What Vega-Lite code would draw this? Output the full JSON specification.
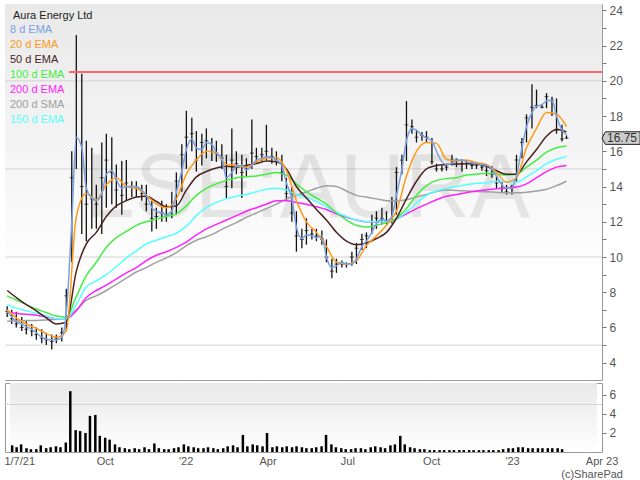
{
  "$schema": "https://vega.github.io/schema/vega-lite/v6.json",
  "padding": {"left": 3, "top": 3, "right": 0, "bottom": 0},
  "background": "#ffffff",
  "spacing": 1,
  "config": {
    "font": "Liberation Sans",
    "view": {"stroke": "#9a9a9a"},
    "axis": {"labelFont": "Liberation Sans", "labelColor": "#555555", "gridColor": "#d4d4d4", "domain": false, "tickColor": "#777777"}
  },
  "title": {"text": "(c)SharePad", "orient": "bottom", "anchor": "end", "frame": "group", "dx": 21, "fontSize": 11, "fontWeight": "normal", "color": "#555555", "offset": 2},
  "datasets": {
    "wm": [{"d": "2022-05-25", "p": 12.25, "t": "LSE:AURA"}],
    "grid": [{"g": 5}, {"g": 10}, {"g": 15}, {"g": 20}],
    "res": [{"d": "2021-09-05", "d2": "2023-04-14", "p": 20.5}],
    "last": [{"d": "2023-04-14", "p": 16.75}],
    "bars": [
      {"d": "2021-06-29", "h": 7.2, "l": 6.6, "c": 6.9, "v": 0.7, "e8": 6.9},
      {"d": "2021-07-04", "h": 7.0, "l": 6.2, "c": 6.5, "v": 0.5, "e8": 6.6},
      {"d": "2021-07-09", "h": 6.9, "l": 6.0, "c": 6.2, "v": 0.8, "e8": 6.35},
      {"d": "2021-07-15", "h": 6.6, "l": 5.8, "c": 6.0, "v": 0.4, "e8": 6.2},
      {"d": "2021-07-20", "h": 6.4, "l": 5.6, "c": 5.9, "v": 0.3, "e8": 6.05},
      {"d": "2021-07-26", "h": 6.2, "l": 5.5, "c": 5.8, "v": 0.3, "e8": 5.9},
      {"d": "2021-07-31", "h": 6.0, "l": 5.3, "c": 5.6, "v": 0.7, "e8": 5.7},
      {"d": "2021-08-06", "h": 5.9, "l": 5.1, "c": 5.4, "v": 0.4, "e8": 5.45},
      {"d": "2021-08-11", "h": 5.7, "l": 5.0, "c": 5.3, "v": 0.5, "e8": 5.35},
      {"d": "2021-08-17", "h": 5.6, "l": 4.75, "c": 5.2, "v": 0.6, "e8": 5.3},
      {"d": "2021-08-22", "h": 5.6, "l": 5.1, "c": 5.4, "v": 0.5, "e8": 5.3},
      {"d": "2021-08-28", "h": 6.0, "l": 5.2, "c": 5.7, "v": 1.0, "e8": 5.45},
      {"d": "2021-09-02", "h": 8.2, "l": 5.8, "c": 7.8, "v": 6.4, "e8": 6.8},
      {"d": "2021-09-08", "h": 16.0, "l": 9.7, "c": 14.5, "v": 2.3, "e8": 12.0},
      {"d": "2021-09-13", "h": 22.6, "l": 15.0, "c": 20.5, "v": 2.2, "e8": 16.8},
      {"d": "2021-09-19", "h": 20.4, "l": 11.3, "c": 14.0, "v": 2.0, "e8": 16.2},
      {"d": "2021-09-24", "h": 16.6, "l": 10.9, "c": 13.0, "v": 3.8, "e8": 13.9},
      {"d": "2021-09-30", "h": 16.2, "l": 11.6, "c": 13.3, "v": 3.9, "e8": 13.35},
      {"d": "2021-10-05", "h": 14.1, "l": 11.6, "c": 13.0, "v": 1.7, "e8": 13.2},
      {"d": "2021-10-11", "h": 16.5, "l": 11.3, "c": 14.5, "v": 1.5, "e8": 13.6},
      {"d": "2021-10-16", "h": 17.0, "l": 12.8, "c": 15.5, "v": 1.3, "e8": 14.7},
      {"d": "2021-10-22", "h": 16.8, "l": 13.0, "c": 14.8, "v": 0.8, "e8": 14.9},
      {"d": "2021-10-27", "h": 15.25, "l": 12.8, "c": 13.8, "v": 0.5, "e8": 14.4},
      {"d": "2021-11-02", "h": 15.45, "l": 12.4, "c": 13.5, "v": 0.4, "e8": 13.9},
      {"d": "2021-11-07", "h": 15.5, "l": 13.2, "c": 14.2, "v": 0.3, "e8": 14.0},
      {"d": "2021-11-13", "h": 14.3, "l": 13.4, "c": 14.0, "v": 0.4, "e8": 14.0},
      {"d": "2021-11-18", "h": 14.3, "l": 13.4, "c": 13.9, "v": 0.3, "e8": 14.0},
      {"d": "2021-11-24", "h": 14.1, "l": 13.2, "c": 13.6, "v": 0.5, "e8": 13.8},
      {"d": "2021-11-29", "h": 14.1, "l": 12.6, "c": 13.0, "v": 0.3, "e8": 13.5},
      {"d": "2021-12-05", "h": 13.2, "l": 11.45, "c": 12.2, "v": 0.9, "e8": 12.8},
      {"d": "2021-12-10", "h": 12.8, "l": 11.6, "c": 12.3, "v": 0.4, "e8": 12.6},
      {"d": "2021-12-16", "h": 13.2, "l": 12.0, "c": 12.5, "v": 0.3, "e8": 12.5},
      {"d": "2021-12-21", "h": 13.0, "l": 12.0, "c": 12.4, "v": 0.3, "e8": 12.4},
      {"d": "2021-12-27", "h": 13.7, "l": 12.2, "c": 12.9, "v": 0.4, "e8": 12.6},
      {"d": "2022-01-01", "h": 14.8, "l": 12.4, "c": 14.3, "v": 0.5, "e8": 13.7},
      {"d": "2022-01-07", "h": 16.4, "l": 13.7, "c": 15.8, "v": 0.8, "e8": 14.9},
      {"d": "2022-01-12", "h": 18.3, "l": 15.0, "c": 16.8, "v": 0.6, "e8": 16.1},
      {"d": "2022-01-18", "h": 17.9, "l": 16.0, "c": 17.0, "v": 0.5, "e8": 16.7},
      {"d": "2022-01-23", "h": 17.15, "l": 14.85, "c": 15.5, "v": 0.4, "e8": 16.2},
      {"d": "2022-01-29", "h": 17.0, "l": 15.2, "c": 16.5, "v": 0.4, "e8": 16.1},
      {"d": "2022-02-03", "h": 17.3, "l": 15.6, "c": 16.6, "v": 0.5, "e8": 16.5},
      {"d": "2022-02-09", "h": 16.75, "l": 15.45, "c": 16.0, "v": 0.4, "e8": 16.4},
      {"d": "2022-02-14", "h": 16.6, "l": 15.4, "c": 15.9, "v": 0.3, "e8": 15.9},
      {"d": "2022-02-20", "h": 16.4, "l": 15.0, "c": 15.6, "v": 0.4, "e8": 15.6},
      {"d": "2022-02-25", "h": 15.8, "l": 13.35, "c": 14.0, "v": 0.6, "e8": 14.5},
      {"d": "2022-03-03", "h": 17.3, "l": 13.9, "c": 15.5, "v": 0.7, "e8": 14.8},
      {"d": "2022-03-08", "h": 16.0, "l": 14.7, "c": 15.3, "v": 0.5, "e8": 15.15},
      {"d": "2022-03-14", "h": 15.8, "l": 13.35, "c": 14.8, "v": 1.8, "e8": 15.2},
      {"d": "2022-03-19", "h": 15.6, "l": 14.6, "c": 15.0, "v": 0.6, "e8": 14.95},
      {"d": "2022-03-25", "h": 17.8, "l": 15.0, "c": 15.9, "v": 0.8, "e8": 15.2},
      {"d": "2022-03-30", "h": 16.2, "l": 15.3, "c": 15.7, "v": 0.7, "e8": 15.5},
      {"d": "2022-04-05", "h": 16.2, "l": 15.4, "c": 15.8, "v": 0.6, "e8": 15.6},
      {"d": "2022-04-10", "h": 17.5, "l": 15.5, "c": 16.0, "v": 2.0, "e8": 15.7},
      {"d": "2022-04-16", "h": 16.2, "l": 15.3, "c": 15.7, "v": 0.5, "e8": 15.65},
      {"d": "2022-04-21", "h": 16.0, "l": 15.2, "c": 15.5, "v": 0.6, "e8": 15.5},
      {"d": "2022-04-27", "h": 15.8, "l": 14.3, "c": 14.8, "v": 0.5, "e8": 15.2},
      {"d": "2022-05-02", "h": 14.5, "l": 13.2, "c": 13.6, "v": 0.6, "e8": 14.2},
      {"d": "2022-05-08", "h": 14.0, "l": 12.0, "c": 12.5, "v": 0.5, "e8": 13.35},
      {"d": "2022-05-13", "h": 12.6, "l": 10.3, "c": 11.2, "v": 0.6, "e8": 11.7},
      {"d": "2022-05-19", "h": 11.6, "l": 10.5, "c": 11.0, "v": 0.5, "e8": 11.05},
      {"d": "2022-05-24", "h": 12.2, "l": 10.7, "c": 11.5, "v": 0.4, "e8": 11.25},
      {"d": "2022-05-30", "h": 11.6, "l": 11.0, "c": 11.3, "v": 0.4, "e8": 11.2},
      {"d": "2022-06-04", "h": 11.6, "l": 10.9, "c": 11.2, "v": 0.5, "e8": 11.1},
      {"d": "2022-06-10", "h": 11.5, "l": 10.7, "c": 11.0, "v": 0.6, "e8": 11.2},
      {"d": "2022-06-15", "h": 11.0, "l": 9.7, "c": 10.0, "v": 1.8, "e8": 10.0},
      {"d": "2022-06-21", "h": 9.9, "l": 8.8, "c": 9.2, "v": 0.8, "e8": 9.4},
      {"d": "2022-06-26", "h": 9.9, "l": 9.1, "c": 9.6, "v": 0.5, "e8": 9.5},
      {"d": "2022-07-02", "h": 9.8, "l": 9.4, "c": 9.6, "v": 0.4, "e8": 9.7},
      {"d": "2022-07-07", "h": 9.7, "l": 9.4, "c": 9.6, "v": 0.3, "e8": 9.6},
      {"d": "2022-07-13", "h": 10.3, "l": 9.5, "c": 10.0, "v": 0.3, "e8": 9.6},
      {"d": "2022-07-18", "h": 10.8, "l": 9.6, "c": 10.5, "v": 0.4, "e8": 9.9},
      {"d": "2022-07-24", "h": 11.3, "l": 10.4, "c": 11.0, "v": 0.4, "e8": 10.6},
      {"d": "2022-07-29", "h": 11.4, "l": 10.5, "c": 11.2, "v": 0.3, "e8": 10.9},
      {"d": "2022-08-04", "h": 12.4, "l": 11.3, "c": 12.0, "v": 0.5, "e8": 11.4},
      {"d": "2022-08-09", "h": 12.6, "l": 11.6, "c": 12.2, "v": 0.6, "e8": 11.9},
      {"d": "2022-08-15", "h": 12.8, "l": 11.85, "c": 12.2, "v": 0.5, "e8": 12.15},
      {"d": "2022-08-20", "h": 12.6, "l": 11.85, "c": 12.0, "v": 0.4, "e8": 12.05},
      {"d": "2022-08-26", "h": 13.4, "l": 11.9, "c": 13.2, "v": 0.7, "e8": 12.3},
      {"d": "2022-08-31", "h": 15.1, "l": 12.4, "c": 14.8, "v": 0.8, "e8": 13.5},
      {"d": "2022-09-06", "h": 15.8, "l": 14.7, "c": 15.5, "v": 1.7, "e8": 15.0},
      {"d": "2022-09-11", "h": 18.85, "l": 15.45, "c": 17.5, "v": 0.8, "e8": 16.6},
      {"d": "2022-09-17", "h": 17.8, "l": 17.0, "c": 17.4, "v": 0.5, "e8": 17.3},
      {"d": "2022-09-22", "h": 17.15, "l": 16.5, "c": 16.8, "v": 0.4, "e8": 17.2},
      {"d": "2022-09-28", "h": 17.1, "l": 16.6, "c": 16.9, "v": 0.3, "e8": 16.9},
      {"d": "2022-10-03", "h": 17.15, "l": 16.5, "c": 16.8, "v": 0.3, "e8": 16.75},
      {"d": "2022-10-09", "h": 16.75, "l": 15.25, "c": 15.4, "v": 0.2, "e8": 16.6},
      {"d": "2022-10-14", "h": 15.3, "l": 14.85, "c": 15.0, "v": 0.2, "e8": 16.0},
      {"d": "2022-10-20", "h": 15.2, "l": 14.85, "c": 15.0, "v": 0.2, "e8": 15.4},
      {"d": "2022-10-25", "h": 15.3, "l": 14.9, "c": 15.1, "v": 0.2, "e8": 15.25},
      {"d": "2022-10-31", "h": 15.8, "l": 15.2, "c": 15.5, "v": 0.2, "e8": 15.3},
      {"d": "2022-11-05", "h": 15.6, "l": 15.1, "c": 15.5, "v": 0.2, "e8": 15.5},
      {"d": "2022-11-11", "h": 15.55, "l": 14.85, "c": 15.3, "v": 0.2, "e8": 15.5},
      {"d": "2022-11-16", "h": 15.5, "l": 15.0, "c": 15.3, "v": 0.2, "e8": 15.4},
      {"d": "2022-11-22", "h": 15.45, "l": 15.0, "c": 15.2, "v": 0.2, "e8": 15.35},
      {"d": "2022-11-27", "h": 15.4, "l": 15.0, "c": 15.2, "v": 0.2, "e8": 15.3},
      {"d": "2022-12-03", "h": 15.3, "l": 14.9, "c": 15.1, "v": 0.2, "e8": 15.25},
      {"d": "2022-12-08", "h": 15.2, "l": 14.6, "c": 14.9, "v": 0.2, "e8": 15.2},
      {"d": "2022-12-14", "h": 15.15, "l": 14.5, "c": 14.7, "v": 0.2, "e8": 15.0},
      {"d": "2022-12-19", "h": 14.6, "l": 13.9, "c": 14.2, "v": 0.2, "e8": 14.6},
      {"d": "2022-12-25", "h": 14.3, "l": 13.65, "c": 13.9, "v": 0.2, "e8": 14.1},
      {"d": "2022-12-30", "h": 14.1, "l": 13.55, "c": 13.7, "v": 0.3, "e8": 13.9},
      {"d": "2023-01-05", "h": 14.1, "l": 13.55, "c": 14.0, "v": 0.4, "e8": 13.95},
      {"d": "2023-01-10", "h": 15.8, "l": 14.3, "c": 15.5, "v": 0.4, "e8": 14.6},
      {"d": "2023-01-16", "h": 16.75, "l": 15.6, "c": 16.5, "v": 0.5, "e8": 16.2},
      {"d": "2023-01-21", "h": 18.1, "l": 16.5, "c": 17.9, "v": 0.5, "e8": 17.4},
      {"d": "2023-01-27", "h": 19.8, "l": 17.3, "c": 18.5, "v": 0.4, "e8": 18.2},
      {"d": "2023-02-01", "h": 19.5, "l": 18.45, "c": 18.6, "v": 0.4, "e8": 18.55},
      {"d": "2023-02-07", "h": 18.65, "l": 18.45, "c": 18.5, "v": 0.4, "e8": 18.65},
      {"d": "2023-02-12", "h": 19.3, "l": 18.45, "c": 19.1, "v": 0.4, "e8": 18.85},
      {"d": "2023-02-18", "h": 19.1, "l": 18.0, "c": 18.9, "v": 0.4, "e8": 18.9},
      {"d": "2023-02-23", "h": 19.0, "l": 17.0, "c": 17.2, "v": 0.4, "e8": 18.0},
      {"d": "2023-03-01", "h": 17.5, "l": 16.55, "c": 16.7, "v": 0.4, "e8": 17.2},
      {"d": "2023-03-06", "h": 16.9, "l": 16.7, "c": 16.75, "v": 0.3, "e8": 16.95}
    ],
    "lines": [
      {"d": "2021-06-29", "e20": 7.0, "e50": 8.1, "e100": 7.8, "e150": 7.3, "e200": 6.9, "s200": 6.35},
      {"d": "2021-07-09", "e20": 6.55, "e50": 7.7, "e100": 7.55, "e150": 7.1, "e200": 6.8, "s200": 6.37},
      {"d": "2021-07-20", "e20": 6.2, "e50": 7.3, "e100": 7.3, "e150": 6.95, "e200": 6.75, "s200": 6.39},
      {"d": "2021-07-31", "e20": 5.95, "e50": 6.95, "e100": 7.05, "e150": 6.8, "e200": 6.7, "s200": 6.4},
      {"d": "2021-08-11", "e20": 5.65, "e50": 6.55, "e100": 6.85, "e150": 6.65, "e200": 6.6, "s200": 6.43},
      {"d": "2021-08-22", "e20": 5.45, "e50": 6.2, "e100": 6.65, "e150": 6.5, "e200": 6.5, "s200": 6.47},
      {"d": "2021-09-02", "e20": 5.8, "e50": 6.3, "e100": 6.6, "e150": 6.5, "e200": 6.5, "s200": 6.55},
      {"d": "2021-09-13", "e20": 12.3, "e50": 9.2, "e100": 7.75, "e150": 7.3, "e200": 6.95, "s200": 7.0},
      {"d": "2021-09-24", "e20": 13.6, "e50": 10.75, "e100": 8.95, "e150": 8.3, "e200": 7.7, "s200": 7.55},
      {"d": "2021-10-05", "e20": 13.25, "e50": 11.4, "e100": 9.7, "e150": 8.65, "e200": 8.1, "s200": 7.8},
      {"d": "2021-10-16", "e20": 14.1, "e50": 12.3, "e100": 10.55, "e150": 9.0, "e200": 8.4, "s200": 8.1},
      {"d": "2021-10-27", "e20": 14.5, "e50": 12.9, "e100": 11.1, "e150": 9.45, "e200": 8.75, "s200": 8.45},
      {"d": "2021-11-07", "e20": 14.0, "e50": 13.2, "e100": 11.45, "e150": 9.95, "e200": 9.1, "s200": 8.8},
      {"d": "2021-11-18", "e20": 13.9, "e50": 13.4, "e100": 11.8, "e150": 10.35, "e200": 9.4, "s200": 9.15},
      {"d": "2021-11-29", "e20": 13.5, "e50": 13.45, "e100": 12.0, "e150": 10.75, "e200": 9.8, "s200": 9.4},
      {"d": "2021-12-10", "e20": 13.0, "e50": 13.15, "e100": 12.15, "e150": 10.95, "e200": 10.1, "s200": 9.7},
      {"d": "2021-12-21", "e20": 12.8, "e50": 12.85, "e100": 12.3, "e150": 11.15, "e200": 10.3, "s200": 9.95},
      {"d": "2022-01-01", "e20": 13.3, "e50": 12.9, "e100": 12.45, "e150": 11.35, "e200": 10.55, "s200": 10.25},
      {"d": "2022-01-12", "e20": 14.7, "e50": 13.8, "e100": 12.9, "e150": 11.75, "e200": 10.85, "s200": 10.65},
      {"d": "2022-01-23", "e20": 15.5, "e50": 14.55, "e100": 13.5, "e150": 12.35, "e200": 11.25, "s200": 10.95},
      {"d": "2022-02-03", "e20": 16.0, "e50": 14.85, "e100": 13.9, "e150": 12.8, "e200": 11.6, "s200": 11.15},
      {"d": "2022-02-14", "e20": 15.9, "e50": 15.05, "e100": 14.15, "e150": 13.1, "e200": 11.85, "s200": 11.4},
      {"d": "2022-02-25", "e20": 15.25, "e50": 15.15, "e100": 14.35, "e150": 13.3, "e200": 12.1, "s200": 11.7},
      {"d": "2022-03-08", "e20": 15.2, "e50": 15.1, "e100": 14.5, "e150": 13.45, "e200": 12.35, "s200": 11.95},
      {"d": "2022-03-19", "e20": 15.1, "e50": 15.2, "e100": 14.55, "e150": 13.55, "e200": 12.6, "s200": 12.25},
      {"d": "2022-03-30", "e20": 15.4, "e50": 15.3, "e100": 14.6, "e150": 13.7, "e200": 12.8, "s200": 12.5},
      {"d": "2022-04-10", "e20": 15.6, "e50": 15.45, "e100": 14.7, "e150": 13.85, "e200": 13.0, "s200": 12.75},
      {"d": "2022-04-21", "e20": 15.65, "e50": 15.4, "e100": 14.8, "e150": 13.9, "e200": 13.2, "s200": 13.0},
      {"d": "2022-05-02", "e20": 14.9, "e50": 15.0, "e100": 14.65, "e150": 13.8, "e200": 13.2, "s200": 13.3},
      {"d": "2022-05-13", "e20": 13.2, "e50": 14.0, "e100": 14.15, "e150": 13.55, "e200": 13.1, "s200": 13.5},
      {"d": "2022-05-24", "e20": 12.0, "e50": 13.35, "e100": 13.7, "e150": 13.4, "e200": 13.0, "s200": 13.7},
      {"d": "2022-06-04", "e20": 11.4, "e50": 12.7, "e100": 13.35, "e150": 13.15, "e200": 12.85, "s200": 13.9},
      {"d": "2022-06-15", "e20": 10.6, "e50": 12.1, "e100": 13.0, "e150": 12.85, "e200": 12.7, "s200": 14.05},
      {"d": "2022-06-26", "e20": 9.7, "e50": 11.4, "e100": 12.5, "e150": 12.55, "e200": 12.45, "s200": 14.0},
      {"d": "2022-07-07", "e20": 9.6, "e50": 10.9, "e100": 12.1, "e150": 12.3, "e200": 12.25, "s200": 13.75},
      {"d": "2022-07-18", "e20": 9.8, "e50": 10.7, "e100": 11.8, "e150": 12.1, "e200": 12.1, "s200": 13.5},
      {"d": "2022-07-29", "e20": 10.65, "e50": 10.8, "e100": 11.7, "e150": 12.0, "e200": 12.0, "s200": 13.4},
      {"d": "2022-08-09", "e20": 11.2, "e50": 11.05, "e100": 11.8, "e150": 12.0, "e200": 12.0, "s200": 13.3},
      {"d": "2022-08-20", "e20": 11.8, "e50": 11.4, "e100": 11.95, "e150": 12.0, "e200": 12.0, "s200": 13.2},
      {"d": "2022-08-31", "e20": 12.6, "e50": 12.2, "e100": 12.2, "e150": 12.15, "e200": 12.15, "s200": 13.2},
      {"d": "2022-09-11", "e20": 14.6, "e50": 13.3, "e100": 12.75, "e150": 12.55, "e200": 12.45, "s200": 13.25},
      {"d": "2022-09-22", "e20": 16.0, "e50": 14.3, "e100": 13.5, "e150": 13.05, "e200": 12.75, "s200": 13.4},
      {"d": "2022-10-03", "e20": 16.5, "e50": 15.0, "e100": 14.05, "e150": 13.5, "e200": 13.0, "s200": 13.55},
      {"d": "2022-10-14", "e20": 16.45, "e50": 15.2, "e100": 14.35, "e150": 13.75, "e200": 13.25, "s200": 13.72},
      {"d": "2022-10-25", "e20": 15.55, "e50": 15.25, "e100": 14.45, "e150": 13.9, "e200": 13.45, "s200": 13.8},
      {"d": "2022-11-05", "e20": 15.45, "e50": 15.28, "e100": 14.5, "e150": 14.0, "e200": 13.55, "s200": 13.77},
      {"d": "2022-11-16", "e20": 15.5, "e50": 15.3, "e100": 14.65, "e150": 14.1, "e200": 13.65, "s200": 13.75},
      {"d": "2022-11-27", "e20": 15.35, "e50": 15.28, "e100": 14.7, "e150": 14.18, "e200": 13.75, "s200": 13.72},
      {"d": "2022-12-08", "e20": 15.25, "e50": 15.15, "e100": 14.75, "e150": 14.22, "e200": 13.82, "s200": 13.7},
      {"d": "2022-12-19", "e20": 14.8, "e50": 14.9, "e100": 14.72, "e150": 14.28, "e200": 13.88, "s200": 13.67},
      {"d": "2022-12-30", "e20": 14.25, "e50": 14.7, "e100": 14.65, "e150": 14.27, "e200": 13.92, "s200": 13.65},
      {"d": "2023-01-10", "e20": 14.5, "e50": 14.7, "e100": 14.7, "e150": 14.25, "e200": 13.97, "s200": 13.65},
      {"d": "2023-01-21", "e20": 16.2, "e50": 15.4, "e100": 15.1, "e150": 14.55, "e200": 14.15, "s200": 13.68},
      {"d": "2023-02-01", "e20": 17.3, "e50": 16.1, "e100": 15.5, "e150": 14.9, "e200": 14.5, "s200": 13.75},
      {"d": "2023-02-12", "e20": 18.2, "e50": 16.85, "e100": 15.95, "e150": 15.3, "e200": 14.85, "s200": 13.85},
      {"d": "2023-02-23", "e20": 18.1, "e50": 17.25, "e100": 16.2, "e150": 15.55, "e200": 15.1, "s200": 14.05},
      {"d": "2023-03-06", "e20": 17.4, "e50": 17.1, "e100": 16.3, "e150": 15.7, "e200": 15.2, "s200": 14.3}
    ]
  },
  "vconcat": [
    {
      "width": 597,
      "height": 376,
      "layer": [
        {
          "data": {"name": "wm"},
          "mark": {"type": "rect", "color": {"gradient": "linear", "x1": 0, "y1": 0, "x2": 0, "y2": 1, "stops": [{"offset": 0, "color": "#e9e9e9"}, {"offset": 0.75, "color": "#ffffff"}]}},
          "encoding": {
            "x": {"datum": {"year": 2021, "month": 6, "date": 26, "hours": 14, "utc": true}, "type": "temporal",
              "scale": {"type": "utc", "domain": [{"year": 2021, "month": 6, "date": 26, "hours": 14, "utc": true}, {"year": 2023, "month": 4, "date": 14, "utc": true}]},
              "axis": {"values": [{"year": 2021, "month": 7, "date": 1, "utc": true}, {"year": 2021, "month": 10, "date": 1, "utc": true}, {"year": 2022, "month": 1, "date": 1, "utc": true}, {"year": 2022, "month": 4, "date": 1, "utc": true}, {"year": 2022, "month": 7, "date": 1, "utc": true}, {"year": 2022, "month": 10, "date": 1, "utc": true}, {"year": 2023, "month": 1, "date": 1, "utc": true}, {"year": 2023, "month": 4, "date": 1, "utc": true}],
                "tickCount": 40, "labels": false, "ticks": false, "domain": false, "grid": true, "title": null, "minExtent": 0, "maxExtent": 0,
                "gridOpacity": {"condition": {"test": "utcyear(datum.value) == 2021 && utcmonth(datum.value) == 6", "value": 0}, "value": 1}}},
            "x2": {"datum": {"year": 2023, "month": 4, "date": 14, "utc": true}},
            "y": {"datum": 3.02, "type": "quantitative",
              "scale": {"domain": [3.02, 24.36], "nice": false, "zero": false},
              "axis": {"orient": "right", "title": null, "values": [4, 5, 6, 7, 8, 9, 10, 11, 12, 13, 14, 15, 16, 17, 18, 19, 20, 21, 22, 23, 24], "tickCount": 40, "labelOverlap": false, "format": "d",
                "labelOpacity": {"condition": {"test": "datum.value % 2 == 0", "value": 1}, "value": 0},
                "labelFontSize": 12, "labelPadding": 3, "tickSize": 4, "grid": false}},
            "y2": {"datum": 24.36}
          }
        },
        {
          "data": {"name": "grid"},
          "mark": {"type": "rule", "color": "#d4d4d4", "strokeWidth": 1},
          "encoding": {"y": {"field": "g", "type": "quantitative"}}
        },
        {
          "data": {"name": "wm"},
          "mark": {"type": "text", "fontSize": 90, "font": "Liberation Sans", "color": "#000000", "opacity": 0.08, "baseline": "alphabetic", "align": "center"},
          "encoding": {
            "x": {"field": "d", "type": "temporal"},
            "y": {"field": "p", "type": "quantitative"},
            "text": {"field": "t"}
          }
        },
        {
          "data": {"name": "bars"},
          "mark": {"type": "rule", "color": "#111111", "strokeWidth": 1.3},
          "encoding": {
            "x": {"field": "d", "type": "temporal"},
            "y": {"field": "l", "type": "quantitative"},
            "y2": {"field": "h"}
          }
        },
        {
          "data": {"name": "bars"},
          "mark": {"type": "tick", "orient": "horizontal", "color": "#111111", "size": 4, "thickness": 1},
          "encoding": {
            "x": {"field": "d", "type": "temporal"},
            "y": {"field": "c", "type": "quantitative"}
          }
        },
        {
          "data": {"name": "lines"},
          "transform": [{"fold": ["s200", "e200", "e150", "e100", "e50", "e20"], "as": ["k", "val"]}],
          "mark": {"type": "line", "strokeWidth": 1.5, "interpolate": "monotone"},
          "encoding": {
            "x": {"field": "d", "type": "temporal"},
            "y": {"field": "val", "type": "quantitative"},
            "color": {"field": "k", "type": "nominal",
              "scale": {"domain": ["e8", "e20", "e50", "e100", "e200", "s200", "e150"], "range": ["#7aa0e6", "#ff9a1a", "#4b2323", "#44ee44", "#ff22ff", "#a0a0a0", "#55ffff"]},
              "legend": {"orient": "none", "legendX": 8, "legendY": 6, "title": "Aura Energy Ltd", "titleFontSize": 11, "titleFontWeight": "normal", "titleColor": "#222222", "titleFont": "Liberation Sans", "titlePadding": 3,
                "labelFontSize": 11, "labelFont": "Liberation Sans", "symbolSize": 0, "symbolOpacity": 0, "symbolStrokeWidth": 0, "labelOffset": -14, "rowPadding": 3, "padding": 0,
                "labelExpr": "datum.label == 'e8' ? '8 d EMA' : datum.label == 'e20' ? '20 d EMA' : datum.label == 'e50' ? '50 d EMA' : datum.label == 'e100' ? '100 d EMA' : datum.label == 'e200' ? '200 d EMA' : datum.label == 's200' ? '200 d SMA' : '150 d EMA'",
                "encode": {"labels": {"update": {"fill": {"scale": "color", "field": "value"}}}}}}
          }
        },
        {
          "data": {"name": "bars"},
          "mark": {"type": "line", "strokeWidth": 1.5, "interpolate": "monotone"},
          "encoding": {
            "x": {"field": "d", "type": "temporal"},
            "y": {"field": "e8", "type": "quantitative"},
            "color": {"datum": "e8", "type": "nominal"}
          }
        },
        {
          "data": {"name": "res"},
          "mark": {"type": "rule", "color": "#ff6666", "strokeWidth": 2},
          "encoding": {
            "x": {"field": "d", "type": "temporal"},
            "x2": {"field": "d2"},
            "y": {"field": "p", "type": "quantitative"}
          }
        },
        {
          "data": {"name": "last"},
          "mark": {"type": "point", "shape": "M0,0L0.09,-0.17L1.03,-0.17L1.03,0.17L0.09,0.17Z", "size": 5476, "filled": true, "fill": "#cccccc", "stroke": "#222222", "strokeWidth": 1, "opacity": 1},
          "encoding": {
            "x": {"field": "d", "type": "temporal"},
            "y": {"field": "p", "type": "quantitative"}
          }
        },
        {
          "data": {"name": "last"},
          "mark": {"type": "text", "align": "left", "baseline": "middle", "dx": 5, "fontSize": 12, "color": "#333333", "font": "Liberation Sans"},
          "encoding": {
            "x": {"field": "d", "type": "temporal"},
            "y": {"field": "p", "type": "quantitative"},
            "text": {"field": "p", "type": "quantitative", "format": ".2f"}
          }
        }
      ]
    },
    {
      "width": 597,
      "height": 69,
      "layer": [
        {
          "data": {"name": "wm"},
          "mark": {"type": "rect", "color": {"gradient": "linear", "x1": 0, "y1": 0, "x2": 0, "y2": 1, "stops": [{"offset": 0, "color": "#e9e9e9"}, {"offset": 1, "color": "#ffffff"}]}},
          "encoding": {
            "x": {"datum": {"year": 2021, "month": 6, "date": 26, "hours": 14, "utc": true}, "type": "temporal",
              "scale": {"type": "utc", "domain": [{"year": 2021, "month": 6, "date": 26, "hours": 14, "utc": true}, {"year": 2023, "month": 4, "date": 14, "utc": true}]},
              "axis": {"values": [{"year": 2021, "month": 7, "date": 1, "utc": true}, {"year": 2021, "month": 10, "date": 1, "utc": true}, {"year": 2022, "month": 1, "date": 1, "utc": true}, {"year": 2022, "month": 4, "date": 1, "utc": true}, {"year": 2022, "month": 7, "date": 1, "utc": true}, {"year": 2022, "month": 10, "date": 1, "utc": true}, {"year": 2023, "month": 1, "date": 1, "utc": true}, {"year": 2023, "month": 4, "date": 1, "utc": true}],
                "tickCount": 40, "labelOverlap": false, "title": null, "ticks": false, "domain": false, "grid": true, "labelAlign": "left", "labelFontSize": 11, "labelPadding": 3,
                "labelOffset": {"condition": {"test": "utcyear(datum.value) == 2021 && utcmonth(datum.value) == 6", "value": -10}, "value": 0},
                "gridOpacity": {"condition": {"test": "utcyear(datum.value) == 2021 && utcmonth(datum.value) == 6", "value": 0}, "value": 1},
                "labelExpr": "utcyear(datum.value) == 2021 && utcmonth(datum.value) == 6 ? '1/7/21' : utcmonth(datum.value) == 0 ? \"'\" + utcFormat(datum.value, '%y') : (utcyear(datum.value) == 2023 && utcmonth(datum.value) == 3 ? 'Apr 23' : utcFormat(datum.value, '%b'))"}},
            "x2": {"datum": {"year": 2023, "month": 4, "date": 14, "utc": true}},
            "y": {"datum": 0, "type": "quantitative",
              "scale": {"domain": [0, 7.26], "nice": false},
              "axis": {"orient": "right", "values": [2, 4, 6], "tickCount": 20, "labelOverlap": false, "format": "d", "labelFontSize": 12, "labelPadding": 3, "tickSize": 4, "grid": false,
                "title": "Volume (m)", "titleAngle": 0, "titleAlign": "left", "titleBaseline": "middle", "titleX": -592, "titleY": 8, "titleFontSize": 11, "titleFontWeight": "normal", "titleColor": "#333333", "titleFont": "Liberation Sans"}},
            "y2": {"datum": 7.26}
          }
        },
        {
          "data": {"name": "grid"},
          "transform": [{"filter": "datum.g == 5"}],
          "mark": {"type": "rule", "color": "#d4d4d4", "strokeWidth": 1},
          "encoding": {"y": {"field": "g", "type": "quantitative"}}
        },
        {
          "data": {"name": "bars"},
          "mark": {"type": "bar", "color": "#000000", "size": 2.5},
          "encoding": {
            "x": {"field": "d", "type": "temporal"},
            "y": {"field": "v", "type": "quantitative"}
          }
        }
      ]
    }
  ]
}
